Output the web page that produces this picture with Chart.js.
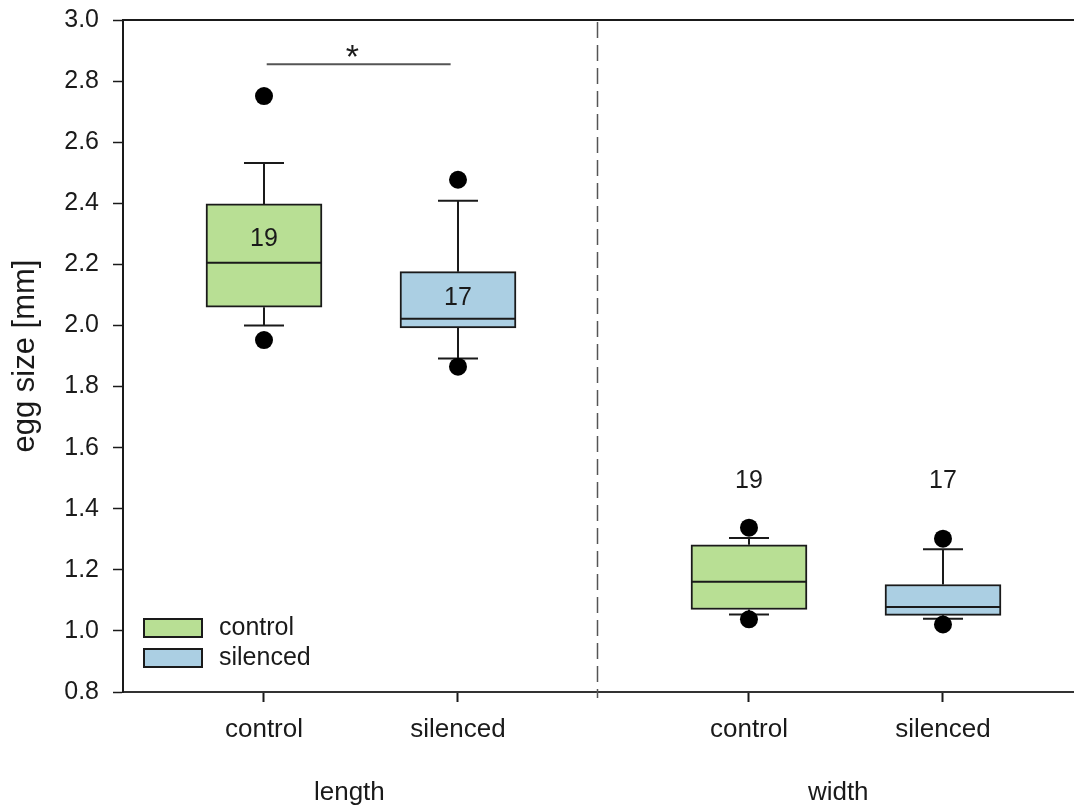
<!DOCTYPE html>
<html>
<head>
<meta charset="utf-8">
<title>egg size</title>
<script src="https://cdn.jsdelivr.net/npm/chart.js@4.4.1/dist/chart.umd.min.js"></script>
<style>
  html, body { margin: 0; padding: 0; background: #ffffff; overflow: hidden; }
  #wrap { width: 1074px; height: 809px; position: relative; }
  #chart { display: block; }
</style>
</head>
<body>
<div id="wrap"><canvas id="chart"></canvas></div>
<script>
// Box slots along the x axis: length/control, length/silenced, width/control, width/silenced
const boxSlots    = [1, 2, 3.5, 4.5];
const boxGroup    = [0, 1, 0, 1];
const tickLabels  = ['control', 'silenced', 'control', 'silenced'];
const groupNames  = ['control', 'silenced'];
const groupColors = ['#b8df94', '#abcfe3'];
const measureNames = ['length', 'width'];
const measureSlots = [1.44, 3.96];
const dividerSlot  = 2.718;

// Box statistics (mm)
const whiskerLow  = [2.000, 1.892, 1.054, 1.040];
const quartile1   = [2.060, 1.992, 1.070, 1.051];
const medians     = [2.205, 2.022, 1.161, 1.078];
const quartile3   = [2.398, 2.176, 1.282, 1.152];
const whiskerHigh = [2.532, 2.408, 1.304, 1.267];
const outliers    = [[1.952, 2.751], [1.865, 2.477], [1.038, 1.338], [1.021, 1.302]];
const sampleSizes = [19, 17, 19, 17];
const sampleLabelAt = [2.288, 2.096, 1.498, 1.498];

// Significance bracket between the two length boxes
const sigFrom = 1.014, sigTo = 1.962, sigLevel = 2.855, sigMark = '*', sigMarkSlot = 1.455;

// y axis ticks
const yMin = 0.8, yMax = 3.0, yStep = 0.2;

const FONT = '"Liberation Sans", Arial, sans-serif';
const INK = '#1a1a1a';

const boxDatasets = groupNames.map((name, g) => ({
  type: 'bar',
  label: name,
  data: boxSlots
    .map((x, i) => ({ x, y: [quartile1[i], quartile3[i]], box: i }))
    .filter(d => boxGroup[d.box] === g),
  backgroundColor: groupColors[g],
  borderColor: INK,
  borderWidth: 2,
  borderSkipped: false,
  barThickness: 116,
  grouped: false,
  order: 2
}));

const outlierDataset = {
  type: 'scatter',
  label: 'outliers',
  data: outliers.flatMap((vals, i) => vals.map(y => ({ x: boxSlots[i], y }))),
  pointRadius: 9,
  pointHoverRadius: 9,
  backgroundColor: '#000000',
  borderWidth: 0,
  order: 1
};

const boxExtras = {
  id: 'boxExtras',
  beforeDatasetsDraw(chart) {
    const { ctx, chartArea: a, scales: { x, y } } = chart;
    ctx.save();
    // top frame line
    ctx.strokeStyle = INK;
    ctx.lineWidth = 2;
    ctx.beginPath();
    ctx.moveTo(a.left - 1, a.top);
    ctx.lineTo(a.right, a.top);
    ctx.stroke();
    // dashed divider between length and width
    const dx = Math.round(x.getPixelForValue(dividerSlot)) + 0.5;
    ctx.strokeStyle = '#555555';
    ctx.lineWidth = 1.5;
    ctx.setLineDash([16, 7]);
    ctx.beginPath();
    ctx.moveTo(dx, a.top + 2);
    ctx.lineTo(dx, a.bottom + 6);
    ctx.stroke();
    ctx.setLineDash([]);
    // whiskers with caps
    ctx.strokeStyle = INK;
    ctx.lineWidth = 2;
    boxSlots.forEach((s, i) => {
      const px = x.getPixelForValue(s);
      [[quartile1[i], whiskerLow[i]], [quartile3[i], whiskerHigh[i]]].forEach(([from, to]) => {
        const y0 = y.getPixelForValue(from);
        const y1 = y.getPixelForValue(to);
        ctx.beginPath();
        ctx.moveTo(px, y0);
        ctx.lineTo(px, y1);
        ctx.moveTo(px - 20, y1);
        ctx.lineTo(px + 20, y1);
        ctx.stroke();
      });
    });
    ctx.restore();
  },
  afterDatasetDraw(chart, args) {
    const ds = chart.data.datasets[args.index];
    if (ds.type !== 'bar') return;
    const { ctx, scales: { y } } = chart;
    ctx.save();
    ctx.strokeStyle = INK;
    ctx.lineWidth = 2;
    args.meta.data.forEach((bar, k) => {
      const i = ds.data[k].box;
      const my = y.getPixelForValue(medians[i]);
      ctx.beginPath();
      ctx.moveTo(bar.x - bar.width / 2, my);
      ctx.lineTo(bar.x + bar.width / 2, my);
      ctx.stroke();
    });
    ctx.restore();
  },
  afterDatasetsDraw(chart) {
    const { ctx, chartArea: a, scales: { x, y } } = chart;
    ctx.save();
    ctx.fillStyle = INK;
    ctx.textAlign = 'center';
    // sample sizes
    ctx.font = '25px ' + FONT;
    ctx.textBaseline = 'middle';
    boxSlots.forEach((s, i) => {
      ctx.fillText(String(sampleSizes[i]), x.getPixelForValue(s), y.getPixelForValue(sampleLabelAt[i]) + 2);
    });
    // significance bracket
    const sy = y.getPixelForValue(sigLevel);
    ctx.strokeStyle = '#555555';
    ctx.lineWidth = 2;
    ctx.beginPath();
    ctx.moveTo(x.getPixelForValue(sigFrom), sy);
    ctx.lineTo(x.getPixelForValue(sigTo), sy);
    ctx.stroke();
    ctx.font = '34px ' + FONT;
    ctx.textBaseline = 'alphabetic';
    ctx.fillText(sigMark, x.getPixelForValue(sigMarkSlot), sy + 4);
    // measure labels under the category ticks
    ctx.font = '26px ' + FONT;
    measureNames.forEach((name, m) => {
      ctx.fillText(name, x.getPixelForValue(measureSlots[m]), a.bottom + 108);
    });
    // legend
    ctx.textAlign = 'left';
    ctx.textBaseline = 'middle';
    ctx.font = '25px ' + FONT;
    groupNames.forEach((name, g) => {
      const top = a.bottom - 73 + g * 30;
      ctx.fillStyle = groupColors[g];
      ctx.fillRect(a.left + 21, top, 58, 18);
      ctx.strokeStyle = INK;
      ctx.lineWidth = 2;
      ctx.strokeRect(a.left + 21, top, 58, 18);
      ctx.fillStyle = INK;
      ctx.fillText(name, a.left + 96, top + 9);
    });
    ctx.restore();
  }
};

Chart.defaults.font.family = FONT;
Chart.defaults.color = INK;

const chart = new Chart(document.getElementById('chart'), {
  type: 'bar',
  data: { datasets: [...boxDatasets, outlierDataset] },
  options: {
    responsive: true,
    maintainAspectRatio: false,
    animation: false,
    layout: { padding: { top: 20, right: 0, left: 0, bottom: 0 } },
    plugins: { legend: { display: false }, tooltip: { enabled: false } },
    scales: {
      x: {
        type: 'linear',
        offset: false,
        min: 0.2732,
        max: 5.1753,
        afterBuildTicks(scale) { scale.ticks = boxSlots.map(v => ({ value: v })); },
        afterFit(scale) {
          scale.height = 117;
          scale.paddingLeft = 0;
          scale.paddingRight = 0;
        },
        ticks: {
          autoSkip: false,
          maxRotation: 0,
          padding: 12,
          font: { size: 26 },
          color: INK,
          callback: (v, i) => tickLabels[i]
        },
        grid: { offset: false, drawOnChartArea: false, tickLength: 10, color: INK, tickWidth: 2 },
        border: { display: true, color: '#333333', width: 2 }
      },
      y: {
        min: yMin,
        max: yMax,
        afterFit(scale) {
          scale.width = 123;
          scale.paddingTop = 0;
          scale.paddingBottom = 0;
        },
        ticks: {
          stepSize: yStep,
          padding: 14,
          font: { size: 25 },
          color: INK,
          callback: v => Number(v).toFixed(1)
        },
        grid: { drawOnChartArea: false, tickLength: 10, color: INK, tickWidth: 1.5 },
        border: { display: true, color: INK, width: 2 },
        title: {
          display: true,
          text: 'egg size [mm]',
          font: { size: 31 },
          color: INK,
          padding: { top: 7, bottom: 0 }
        }
      }
    }
  },
  plugins: [boxExtras]
});

// the outlier dots must not reserve extra room at the plot edges
chart.getDatasetMeta(2).controller.getMaxOverflow = () => 0;
chart.update();
</script>
</body>
</html>
